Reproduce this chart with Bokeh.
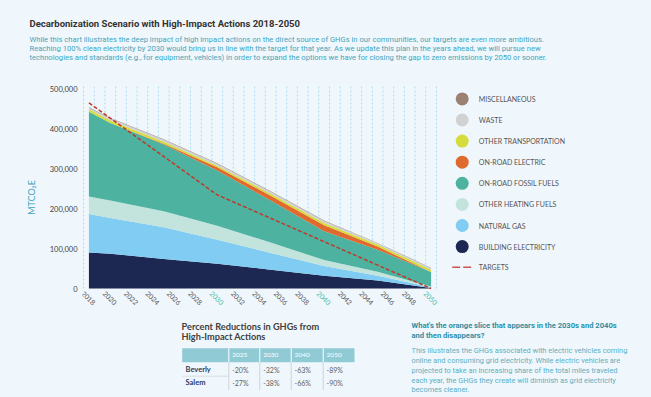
import math
from bokeh.plotting import figure
from bokeh.layouts import column, row
from bokeh.models import ColumnDataSource, Range1d, FixedTicker, NumeralTickFormatter
from bokeh.core.properties import value
from bokeh.embed import file_html
from bokeh.resources import INLINE

# ---------------- data ----------------
years = [2018, 2020, 2025, 2030, 2035, 2040, 2045, 2050]
building_electricity = [90000, 87000, 74000, 62000, 47000, 32000, 20000, 1000]
natural_gas = [96000, 89000, 79000, 60000, 42000, 24000, 12000, 2000]
other_heating_fuels = [44000, 44000, 40000, 35000, 26000, 15000, 10000, 2000]
on_road_fossil_fuels = [212000, 194000, 167000, 138000, 105000, 72000, 55000, 36000]
on_road_electric = [0, 0, 2000, 8000, 12000, 15000, 8000, 0]
other_transportation = [6000, 6000, 5000, 4000, 5000, 6000, 5000, 6000]
waste = [4000, 5000, 5000, 5000, 5000, 5000, 3000, 4000]
miscellaneous = [1000, 1000, 1000, 1000, 1000, 1000, 1000, 1000]

target_years = [2018, 2030, 2050]
targets = [464000, 234000, 0]

y_ticks = [0, 100000, 200000, 300000, 400000, 500000]
x_tick_years = [2018, 2020, 2022, 2024, 2026, 2028, 2030, 2032, 2034, 2036, 2038,
                2040, 2042, 2044, 2046, 2048, 2050]
highlight_years = [2030, 2040, 2050]

series_keys = ["building_electricity", "natural_gas", "other_heating_fuels",
               "on_road_fossil_fuels", "on_road_electric", "other_transportation",
               "waste", "miscellaneous"]
series_labels = ["BUILDING ELECTRICITY", "NATURAL GAS", "OTHER HEATING FUELS",
                 "ON-ROAD FOSSIL FUELS", "ON-ROAD ELECTRIC", "OTHER TRANSPORTATION",
                 "WASTE", "MISCELLANEOUS"]
series_colors = ["#1c2752", "#80ccf2", "#c2e4dc", "#4db3a0", "#e0692e", "#d5dc3c",
                 "#d2d2d2", "#9a8172"]

table_title = ["Percent Reductions in GHGs from", "High-Impact Actions"]
table_years = ["2025", "2030", "2040", "2050"]
table_rows = ["Beverly", "Salem"]
beverly = ["-20%", "-32%", "-63%", "-89%"]
salem = ["-27%", "-38%", "-66%", "-90%"]

title_text = "Decarbonization Scenario with High-Impact Actions 2018-2050"
intro_lines = [
    "While this chart illustrates the deep impact of high impact actions on the direct source of GHGs in our communities, our targets are even more ambitious.",
    "Reaching 100% clean electricity by 2030 would bring us in line with the target for that year. As we update this plan in the years ahead, we will pursue new",
    "technologies and standards (e.g., for equipment, vehicles) in order to expand the options we have for closing the gap to zero emissions by 2050 or sooner.",
]
note_head = ["What's the orange slice that appears in the 2030s and 2040s", "and then disappears?"]
note_body = [
    "This illustrates the GHGs associated with electric vehicles coming",
    "online and consuming grid electricity. While electric vehicles are",
    "projected to take an increasing share of the total miles traveled",
    "each year, the GHGs they create will diminish as grid electricity",
    "becomes cleaner.",
]

# ---------------- styles ----------------
BG = "#f0f7fc"
TEAL_TXT = "#42a6bd"
BODY_FONT = "Roboto"


def panel(x0, x1, y0, y1, top=0, bottom=0):
    """A plain layout figure whose ranges are page pixels (y downward)."""
    f = figure(width=x1 - x0, height=y1 - y0,
               x_range=Range1d(x0, x1), y_range=Range1d(y1 - bottom, y0 + top),
               output_backend="svg", toolbar_location=None, min_border=0,
               min_border_top=top, min_border_bottom=bottom,
               background_fill_color=BG, border_fill_color=BG, outline_line_color=None)
    f.axis.visible = False
    f.grid.visible = False
    return f


def txt(f, xs, ys, texts, size, color, font="Lato", style="normal", align="left"):
    f.text(x=xs, y=ys, text=texts, text_font=value(font), text_font_size=value(size),
           text_color=color, text_font_style=style, text_align=align,
           text_baseline="middle")


# ---------------- header ----------------
header = panel(0, 651, 0, 68)
txt(header, [29], [23], [title_text], "9.5px", "#333333", font="Roboto", style="bold")
txt(header, [29, 29, 29], [38.8, 48.1, 57.4], intro_lines, "7.6px", TEAL_TXT, font=BODY_FONT)

# ---------------- chart ----------------
data = dict(year=years)
for k, arr in zip(series_keys, [building_electricity, natural_gas, other_heating_fuels,
                               on_road_fossil_fuels, on_road_electric, other_transportation,
                               waste, miscellaneous]):
    data[k] = arr
src = ColumnDataSource(data)

p = figure(width=448, height=248, x_range=Range1d(2017.4, 2050.6),
           y_range=Range1d(-50000, 505000),
           output_backend="svg", toolbar_location=None,
           min_border_left=82, min_border_right=11, min_border_top=18, min_border_bottom=8,
           background_fill_color=BG, border_fill_color=BG, outline_line_color=None)

grid_x = [y - 0.5 for y in range(2018, 2052)]
p.segment(x0=grid_x, y0=[0] * len(grid_x), x1=grid_x, y1=[p.y_range.end] * len(grid_x),
          line_color="#a9d9ef", line_width=1, line_dash="2 2", level="underlay")

p.varea_stack(stackers=series_keys, x="year", color=series_colors, source=src)
p.line(target_years, targets, line_color="#c0392b", line_width=1.5, line_dash="4 2")

p.yaxis.ticker = FixedTicker(ticks=y_ticks)
p.yaxis.formatter = NumeralTickFormatter(format="0,0")
p.yaxis.axis_line_color = None
p.yaxis.major_tick_line_color = None
p.yaxis.minor_tick_line_color = None
p.yaxis.major_tick_out = 0
p.yaxis.major_tick_in = 0
p.yaxis.minor_tick_out = 0
p.yaxis.major_label_standoff = 5
p.yaxis.major_label_text_font = "Lato"
p.yaxis.major_label_text_font_size = "7.5px"
p.yaxis.major_label_text_color = "#444444"
p.yaxis.axis_label = "MTCO\u2082E"
p.yaxis.axis_label_text_font = "Lato"
p.yaxis.axis_label_text_font_size = "9px"
p.yaxis.axis_label_text_font_style = "normal"
p.yaxis.axis_label_text_color = TEAL_TXT
p.yaxis.axis_label_standoff = 10
p.xaxis.visible = False
p.grid.visible = False

tick_colors = ["#4dbba6" if y in highlight_years else "#555555" for y in x_tick_years]
p.text(x=x_tick_years, y=[0] * len(x_tick_years), text=[str(y) for y in x_tick_years],
       text_color=tick_colors, angle=-math.pi / 4, x_offset=-6, y_offset=3.5,
       text_align="left", text_baseline="middle", text_font=value("Lato"),
       text_font_size=value("7px"))

# ---------------- legend ----------------
leg = panel(448, 651, 68, 316, top=18, bottom=8)
leg_y = [98.4 + i * 21.1 for i in range(8)]
leg.scatter(x=[461.7] * 8, y=leg_y, size=13, marker="circle",
            fill_color=series_colors[::-1], line_color=None)
txt(leg, [478.3] * 8, leg_y, series_labels[::-1], "7px", "#555555")
leg.line(x=[451.7, 470.7], y=[266.7, 266.7], line_color="#cc5555", line_width=1.6,
         line_dash="8 3")
txt(leg, [478.3], [266.7], ["TARGETS"], "7px", "#555555")

# ---------------- table + note ----------------
bot = panel(0, 651, 316, 397)
txt(bot, [181, 181], [325.7, 335.9], table_title, "9.2px", "#404040", style="bold")
col_edges = [181.7, 228.3, 259.3, 290.7, 322.7, 354.0]
bot.quad(left=[col_edges[0]], right=[col_edges[-1]], top=[347.7], bottom=[361.7],
         fill_color="#8fcad5", line_color=None)
inner = col_edges[1:-1]
bot.quad(left=[e - 0.5 for e in inner], right=[e + 0.5 for e in inner],
         top=[347.7] * 4, bottom=[361.7] * 4, fill_color="#ffffff", line_color=None)
bot.quad(left=[e - 0.5 for e in inner], right=[e + 0.5 for e in inner],
         top=[361.7] * 4, bottom=[389.5] * 4, fill_color="#cdd5da", line_color=None)
bot.quad(left=[col_edges[0]], right=[col_edges[1]], top=[375.3], bottom=[376.1],
         fill_color="#cdd5da", line_color=None)
cell_x = [e + 3.4 for e in inner]
txt(bot, cell_x, [354.7] * 4, table_years, "6.5px", "#ffffff")
for r, (name, vals) in enumerate(zip(table_rows, [beverly, salem])):
    ry = 369.3 + r * 13.0
    txt(bot, [185], [ry], [name], "7.5px", "#2b3766", style="bold")
    txt(bot, cell_x, [ry] * 4, vals, "7px", "#606060")

txt(bot, [411, 411], [325, 335], note_head, "7.6px", "#2f8ea3", font=BODY_FONT, style="bold")
txt(bot, [411] * 5, [350 + i * 9.85 for i in range(5)], note_body, "7.4px", "#58b0c3",
    font=BODY_FONT)

layout = column(header, row(p, leg), bot)

html = file_html(layout, INLINE, title="Decarbonization Scenario")
html = html.replace(
    "</head>",
    "<style>html, body { margin: 0; padding: 0; overflow: hidden; background-color: %s; }</style></head>" % BG,
    1)
open("out.html", "w").write(html)
